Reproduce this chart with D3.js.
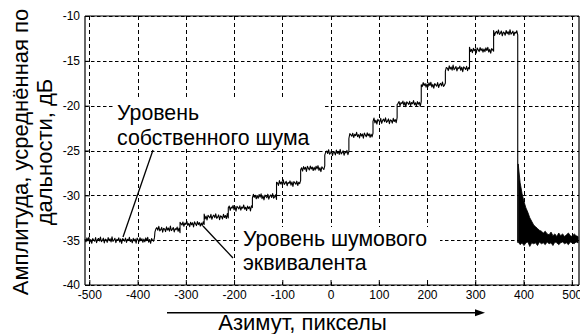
<!DOCTYPE html>
<html>
<head>
<meta charset="utf-8">
<script src="https://cdn.jsdelivr.net/npm/d3@7"></script>
<style>
  body { margin: 0; background: #fff; }
  svg { display: block; }
  text { font-family: Arial, "Liberation Sans", sans-serif; fill: #000; }
</style>
</head>
<body>
<svg id="chart" width="580" height="334"></svg>
<script>
// Azimuth boundaries of each signal plateau (pixels) and the mean level on it (dB)
const stepEdges = [-509, -364, -312, -262, -212, -162, -112, -62, -12, 38, 88, 138, 188, 238, 288, 338, 388];
const stepLevels = [-35.0, -33.8, -33.2, -32.4, -31.4, -30.15, -28.65, -27.0, -25.25, -23.3, -21.7, -19.75, -17.7, -15.85, -13.8, -11.9];

// Sample-to-sample fluctuation of the averaged amplitude (dB), one value per 2 px of azimuth
const jitter = [0.12, -0.18, 0.25, -0.05, 0.31, -0.22, 0.08, -0.35, 0.17, 0.02, -0.12, 0.28, -0.27, 0.06, 0.19,
  -0.09, 0.34, -0.16, -0.03, 0.22, -0.31, 0.11, 0.04, -0.24, 0.29, -0.07, 0.15, -0.19, 0.37, -0.13, 0.01,
  0.21, -0.28, 0.09, -0.02, 0.26, -0.21, 0.14, -0.36, 0.18, 0.05, -0.11, 0.23, -0.25, 0.10, -0.04, 0.32,
  -0.15, 0.07, -0.29, 0.20, -0.08, 0.13, -0.33, 0.24, 0.03, -0.17, 0.27, -0.06, 0.16, -0.23];

// Decaying tail after the last plateau: upper and lower envelope of the dense trace
const tailX = [389, 393, 397, 401, 405, 409, 413, 417, 421, 425, 429, 433, 437, 441, 445, 449,
  453, 457, 461, 465, 469, 473, 477, 481, 485, 489, 493, 497, 501, 505, 509, 513];
const tailTop = [-26.5, -28.6, -29.8, -30.7, -31.4, -31.9, -32.5, -32.9, -33.3, -33.5, -33.7, -33.9, -34.0, -34.2, -34.0, -34.3,
  -34.4, -34.1, -34.5, -34.3, -34.6, -34.2, -34.5, -34.3, -34.6, -34.4, -34.2, -34.5, -34.6, -34.3, -34.5, -34.6];
const tailBottom = [-35.2, -35.5, -35.3, -35.6, -35.3, -35.2, -35.7, -35.3, -35.4, -35.3, -35.6, -35.2, -35.4, -35.3, -35.5, -35.2,
  -35.4, -35.3, -35.6, -35.2, -35.3, -35.5, -35.3, -35.2, -35.4, -35.3, -35.5, -35.2, -35.3, -35.4, -35.2, -35.3];
const dropFloor = -35.3;

const xTicks = [-500, -400, -300, -200, -100, 0, 100, 200, 300, 400, 500];
const yTicks = [-40, -35, -30, -25, -20, -15, -10];

const yTitle = ["Амплитуда, усреднённая по", "дальности, дБ"];
const xTitle = "Азимут, пикселы";
const note1 = ["Уровень", "собственного шума"];
const note2 = ["Уровень шумового", "эквивалента"];

const svg = d3.select("#chart");
const L = 85, R = 579, T = 16, B = 285;

const x = d3.scaleLinear().domain([-509, 515]).range([L, R]);
const y = d3.scaleLinear().domain([-40, -10]).range([B, T]);

// dashed grid
const grid = svg.append("g").attr("stroke", "#000").attr("stroke-width", 1).attr("fill", "none");
xTicks.forEach(t => {
  const px = Math.round(x(t)) + 0.5;
  grid.append("line").attr("x1", px).attr("x2", px).attr("y1", T).attr("y2", B)
    .attr("stroke-dasharray", "4,3");
});
yTicks.forEach(t => {
  const py = Math.round(y(t)) + 0.5;
  grid.append("line").attr("x1", L).attr("x2", R).attr("y1", py).attr("y2", py)
    .attr("stroke-dasharray", "3.5,2.5");
});

// trace: plateaus with fluctuations
const trace = [];
let k = 0;
for (let i = 0; i < stepLevels.length; i++) {
  for (let a = stepEdges[i]; a <= stepEdges[i + 1]; a += 2) {
    trace.push([a, stepLevels[i] + jitter[k % jitter.length]]);
    k++;
  }
}
trace.push([stepEdges[stepEdges.length - 1], dropFloor]);

const line = d3.line().x(d => x(d[0])).y(d => y(d[1]));
svg.append("path").datum(trace).attr("d", line)
  .attr("fill", "none").attr("stroke", "#000").attr("stroke-width", 1.1).attr("stroke-linejoin", "round");

// dense decaying tail
const tail = tailX.map((a, i) => ({ a, top: tailTop[i], bot: tailBottom[i] }));
const area = d3.area().x(d => x(d.a)).y0(d => y(d.bot)).y1(d => y(d.top));
svg.append("path").datum(tail).attr("d", area)
  .attr("fill", "#000").attr("stroke", "#000").attr("stroke-width", 0.8);

// axes box
const frame = svg.append("g").attr("stroke", "#000").attr("stroke-width", 1.2).attr("fill", "none");
frame.append("line").attr("x1", L).attr("x2", L).attr("y1", T).attr("y2", B);
frame.append("line").attr("x1", L).attr("x2", R).attr("y1", B).attr("y2", B);
frame.append("line").attr("x1", L).attr("x2", R).attr("y1", T).attr("y2", T);
frame.append("line").attr("x1", R).attr("x2", R).attr("y1", T).attr("y2", B);

// axes (inward ticks)
const xAxis = d3.axisBottom(x).tickValues(xTicks).tickSize(-5).tickSizeOuter(0).tickPadding(5)
  .tickFormat(d3.format("d"));
const gx = svg.append("g").attr("transform", `translate(0,${B})`).call(xAxis);
const yAxis = d3.axisLeft(y).tickValues(yTicks).tickSize(-5).tickSizeOuter(0).tickPadding(5)
  .tickFormat(d3.format("d"));
const gy = svg.append("g").attr("transform", `translate(${L},0)`).call(yAxis);
[gx, gy].forEach(g => {
  g.select(".domain").remove();
  g.selectAll("line").attr("stroke", "#000");
  g.selectAll("text").attr("font-size", 12).attr("font-family", "Arial, 'Liberation Sans', sans-serif")
    .text(function () { return this.textContent.replace("−", "-"); });
});

// annotations with white background
function note(lines, bx, by, bw, bh, tx, ty, lineGap) {
  svg.append("rect").attr("x", bx).attr("y", by).attr("width", bw).attr("height", bh).attr("fill", "#fff");
  lines.forEach((s, i) => {
    svg.append("text").attr("x", tx).attr("y", ty + i * lineGap).attr("font-size", 21.3).text(s);
  });
}
note(note1, 113, 99, 210, 50, 117, 120, 25);
note(note2, 240, 227, 200, 52, 243, 246, 24);

// leader lines
svg.append("line").attr("x1", 153).attr("y1", 150).attr("x2", 123).attr("y2", 237)
  .attr("stroke", "#000").attr("stroke-width", 1.3);
svg.append("line").attr("x1", 203).attr("y1", 226).attr("x2", 233).attr("y2", 258)
  .attr("stroke", "#000").attr("stroke-width", 1.3);

// axis titles
yTitle.forEach((s, i) => {
  svg.append("text").attr("transform", `translate(${28 + i * 24},152) rotate(-90)`)
    .attr("text-anchor", "middle").attr("font-size", 22).text(s);
});
svg.append("text").attr("x", 302.5).attr("y", 330).attr("text-anchor", "middle")
  .attr("font-size", 22).text(xTitle);

// direction arrow under the azimuth axis
svg.append("line").attr("x1", 167).attr("x2", 477).attr("y1", 312.7).attr("y2", 312.7)
  .attr("stroke", "#000").attr("stroke-width", 1.4);
svg.append("path").attr("d", "M485,312.7 L475,309.2 L475,316.2 Z").attr("fill", "#000");
</script>
</body>
</html>
